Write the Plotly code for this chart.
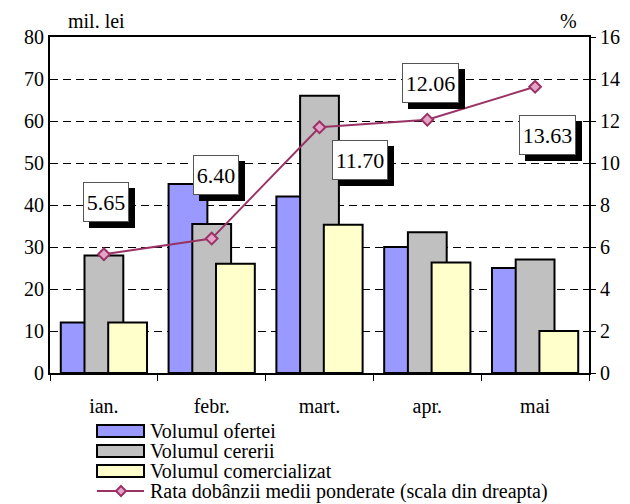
import plotly.graph_objects as go

months = ["ian.", "febr.", "mart.", "apr.", "mai"]
oferta = [12, 45, 42, 30, 25]
cerere = [28, 35.5, 66, 33.5, 27]
comercializat = [12, 26, 35.3, 26.3, 10]
rata = [5.65, 6.40, 11.70, 12.06, 13.63]
rata_labels = ["5.65", "6.40", "11.70", "12.06", "13.63"]
label_shift = [(2, 52), (4, 64), (40, -33), (3, 37), (12, -48)]
label_width = [42, 42, 52, 53, 53]

names = ["Volumul ofertei", "Volumul cererii", "Volumul comercializat",
         "Rata dobânzii medii ponderate (scala din dreapta)"]
colors = ["#9999ff", "#c0c0c0", "#ffffcc"]
LINE_COLOR = "#993366"

FONT = "Liberation Serif"
W = 0.36
L, R, T, B = 50, 41, 37, 131
PW, PH = 630 - L - R, 504 - T - B


def px_x(p):
    return (p - L) / PW


def px_y(p):
    return (504 - B - p) / PH


fig = go.Figure()
for vals, name, col, off in zip([oferta, cerere, comercializat], names[:3], colors,
                                [-0.40, -0.18, 0.04]):
    fig.add_trace(go.Bar(x=months, y=vals, name=name, width=W, offset=off,
                         marker=dict(color=col, line=dict(color="black", width=2))))
fig.add_trace(go.Scatter(x=months, y=rata, yaxis="y2", mode="lines+markers",
                         name=names[3],
                         line=dict(color=LINE_COLOR, width=2),
                         marker=dict(symbol="diamond", size=9, color="#e6a3c8",
                                     line=dict(color=LINE_COLOR, width=2))))

for m, v, t, (dx, dy), w in zip(months, rata, rata_labels, label_shift, label_width):
    common = dict(x=m, y=v, xref="x", yref="y2", showarrow=False,
                  font=dict(family=FONT, size=22), borderpad=1, borderwidth=1,
                  width=w, height=36)
    fig.add_annotation(**common, text="&nbsp;", xshift=dx + 6, yshift=dy - 6,
                       bgcolor="black", bordercolor="black")
    fig.add_annotation(**common, text=t, xshift=dx, yshift=dy, bgcolor="white",
                       bordercolor="#555555")

fig.add_annotation(text="mil. lei", xref="paper", yref="paper", x=px_x(66), y=px_y(34),
                   xanchor="left", yanchor="bottom", showarrow=False,
                   font=dict(family=FONT, size=20, color="black"))
fig.add_annotation(text="%", xref="paper", yref="paper", x=px_x(579), y=px_y(34),
                   xanchor="right", yanchor="bottom", showarrow=False,
                   font=dict(family=FONT, size=20, color="black"))

# custom legend (layout decoration)
row_y = [431, 451, 471, 491]
for i in range(3):
    fig.add_shape(type="rect", xref="paper", yref="paper",
                  x0=px_x(97), x1=px_x(144), y0=px_y(row_y[i] + 6), y1=px_y(row_y[i] - 6),
                  fillcolor=colors[i], line=dict(color="black", width=2))
fig.add_shape(type="line", xref="paper", yref="paper",
              x0=px_x(97), x1=px_x(144), y0=px_y(row_y[3]), y1=px_y(row_y[3]),
              line=dict(color=LINE_COLOR, width=2))
fig.add_shape(type="path", xref="paper", yref="paper",
              path="M {a},{cy} L {cx},{t} L {b},{cy} L {cx},{bt} Z".format(
                  a=px_x(116), b=px_x(126), cx=px_x(121), cy=px_y(row_y[3]),
                  t=px_y(row_y[3] - 5), bt=px_y(row_y[3] + 5)),
              fillcolor="#e6a3c8", line=dict(color=LINE_COLOR, width=2))
for i, nm in enumerate(names):
    fig.add_annotation(text=nm, xref="paper", yref="paper", x=px_x(148), y=px_y(row_y[i]),
                       xanchor="left", yanchor="middle", showarrow=False,
                       font=dict(family=FONT, size=20, color="black"))

fig.update_layout(
    width=630, height=504,
    margin=dict(l=L, r=R, t=T, b=B),
    paper_bgcolor="white", plot_bgcolor="white",
    barmode="overlay",
    showlegend=False,
    font=dict(family=FONT, size=20, color="black"),
    xaxis=dict(showline=True, linecolor="black", linewidth=2, mirror=True,
               ticks="outside", tickson="boundaries", ticklen=6, tickcolor="black",
               tickfont=dict(size=20), showgrid=False, automargin=False,
               ticklabelstandoff=14),
    yaxis=dict(range=[0, 80], dtick=10, showline=True, linecolor="black", linewidth=2,
               ticks="", showgrid=True, gridcolor="black", griddash="8px,5px", gridwidth=1,
               zeroline=False, tickfont=dict(size=20), automargin=False),
    yaxis2=dict(range=[0, 16], dtick=2, overlaying="y", side="right", showline=True,
                linecolor="black", linewidth=2, ticks="outside", ticklen=5,
                tickcolor="black", showgrid=False, zeroline=False, tickfont=dict(size=20),
                automargin=False),
)

fig.write_html("out.html", config={"displayModeBar": False},
               post_script="document.body.style.margin='0';")
